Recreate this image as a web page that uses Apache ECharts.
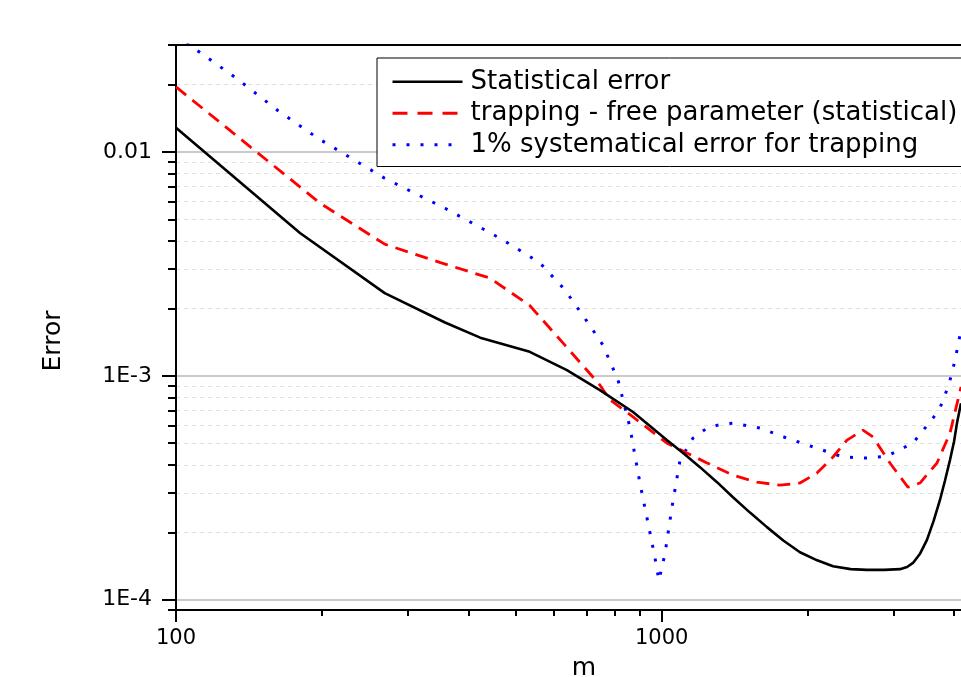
<!DOCTYPE html>
<html><head><meta charset="utf-8">
<script src="https://cdn.jsdelivr.net/npm/echarts@6/dist/echarts.min.js"></script>
<style>html,body{margin:0;padding:0;background:#fff}#c{width:961px;height:677px}</style>
</head><body><div id="c"></div>
<script>
// ---- data ----
const seriesNames = ['Statistical error', 'trapping - free parameter (statistical)', '1% systematical error for trapping'];

const mStat = [100, 180, 269, 358, 423, 535, 638, 746, 873, 1026, 1110, 1199, 1300, 1402, 1520, 1647, 1780, 1926, 2090, 2253, 2450, 2646, 2870, 3095, 3200, 3292, 3400, 3517, 3630, 3741, 3830, 3923, 4000, 4055, 4133];
const vStat = [0.0128, 0.00434, 0.00234, 0.00173, 0.00148, 0.00128, 0.00106, 0.000863, 0.000689, 0.000516, 0.000450, 0.000391, 0.000335, 0.000287, 0.000245, 0.000211, 0.000184, 0.000163, 0.000150, 0.000141, 0.000137, 0.000136, 0.000136, 0.000137, 0.000140, 0.000146, 0.000160, 0.000185, 0.000225, 0.000279, 0.000340, 0.000421, 0.000510, 0.000615, 0.000755];

const mFree = [100, 198, 269, 349, 443, 535, 632, 746, 783, 873, 1026, 1127, 1240, 1402, 1571, 1752, 1926, 2088, 2253, 2407, 2597, 2723, 2951, 3214, 3402, 3688, 3923, 4133];
const vFree = [0.0195, 0.0059, 0.00387, 0.00321, 0.00273, 0.00206, 0.00137, 0.00091, 0.00078, 0.000655, 0.000500, 0.000452, 0.000408, 0.000360, 0.000335, 0.000325, 0.000332, 0.000368, 0.000434, 0.000516, 0.000572, 0.000533, 0.000408, 0.000318, 0.000332, 0.000408, 0.000555, 0.000891];

const mSys = [100, 109, 134, 162, 196, 269, 358, 465, 560, 632, 711, 757, 813, 860, 902, 946, 968, 987, 1016, 1050, 1091, 1160, 1240, 1320, 1402, 1594, 1811, 2088, 2362, 2646, 2910, 3292, 3620, 3741, 3904, 4018, 4133];
const vSys = [0.034, 0.029, 0.0211, 0.0153, 0.0115, 0.00762, 0.0056, 0.00411, 0.00321, 0.00242, 0.00168, 0.00137, 0.000957, 0.00059, 0.000332, 0.000199, 0.000155, 0.000122, 0.000161, 0.000259, 0.000421, 0.000527, 0.000584, 0.000607, 0.000615, 0.000584, 0.000527, 0.000475, 0.000434, 0.000429, 0.000438, 0.000501, 0.000648, 0.000718, 0.000916, 0.001175, 0.00160];

const xRange = [100, 4133];
const yRange = [9e-5, 0.03];
const xMajor = [100, 1000];
const xMajorLabels = ['100', '1000'];
const xMinor = [200, 300, 400, 500, 600, 700, 800, 900, 2000, 3000, 4000];
const yMajor = [1e-4, 1e-3, 1e-2];
const yMajorLabels = ['1E-4', '1E-3', '0.01'];
const yMinor = [9e-5, 2e-4, 3e-4, 4e-4, 5e-4, 6e-4, 7e-4, 8e-4, 9e-4, 2e-3, 3e-3, 4e-3, 5e-3, 6e-3, 7e-3, 8e-3, 9e-3, 2e-2, 3e-2];
const xTitle = 'm';
const yTitle = 'Error';

// ---- chart ----
const FONT = 'DejaVu Sans';
function pairs(xs, ys) { return xs.map((x, i) => [x, ys[i]]); }
function lookup(vals, labels) {
  return function (v) {
    for (let i = 0; i < vals.length; i++) {
      if (Math.abs(Math.log10(v) - Math.log10(vals[i])) < 1e-6) return labels[i];
    }
    return '';
  };
}

const chart = echarts.init(document.getElementById('c'), null, { renderer: 'canvas' });
const option = {
  animation: false,
  backgroundColor: '#fff',
  grid: { left: 176, right: 0, top: 45, bottom: 67, containLabel: false },
  xAxis: [
    {
      type: 'log', logBase: 10, min: xRange[0], max: xRange[1], position: 'bottom',
      axisLine: { show: true, onZero: false, lineStyle: { color: '#000', width: 2 } },
      axisTick: { show: true, customValues: xMajor, length: 12, lineStyle: { color: '#000', width: 2 } },
      axisLabel: { show: true, customValues: xMajor, formatter: lookup(xMajor, xMajorLabels), margin: 18,
        fontFamily: FONT, fontSize: 21, color: '#000' },
      splitLine: { show: false }
    },
    {
      type: 'log', logBase: 10, min: xRange[0], max: xRange[1], position: 'bottom',
      axisLine: { show: false, onZero: false },
      axisTick: { show: true, customValues: xMinor, length: 6, lineStyle: { color: '#000', width: 2 } },
      axisLabel: { show: false },
      splitLine: { show: false }
    },
    {
      type: 'log', logBase: 10, min: xRange[0], max: xRange[1], position: 'top',
      axisLine: { show: true, onZero: false, lineStyle: { color: '#000', width: 2 } },
      axisTick: { show: false }, axisLabel: { show: false }, splitLine: { show: false }
    }
  ],
  yAxis: [
    {
      type: 'log', logBase: 10, min: yRange[0], max: yRange[1], position: 'left',
      axisLine: { show: true, onZero: false, lineStyle: { color: '#000', width: 2 } },
      axisTick: { show: true, customValues: yMajor, length: 14, lineStyle: { color: '#000', width: 2 } },
      axisLabel: { show: true, customValues: yMajor, formatter: lookup(yMajor, yMajorLabels), margin: 24,
        fontFamily: FONT, fontSize: 22, color: '#000' },
      splitLine: { show: true, lineStyle: { color: '#b8b8b8', width: 1.5 } }
    },
    {
      type: 'log', logBase: 10, min: yRange[0], max: yRange[1], position: 'left',
      axisLine: { show: false, onZero: false },
      axisTick: { show: true, customValues: yMinor, length: 8, lineStyle: { color: '#000', width: 2 } },
      axisLabel: { show: false },
      splitLine: { show: true, lineStyle: { color: '#e0e0e0', width: 1, type: [4, 4] } }
    }
  ],
  legend: {
    orient: 'vertical', left: 377, top: 58,
    padding: [8, 20, 6, 14], itemGap: 0, itemWidth: 70, itemHeight: 14,
    borderColor: '#000', borderWidth: 1, backgroundColor: '#fff',
    itemStyle: { opacity: 0 },
    textStyle: { fontFamily: FONT, fontSize: 26, color: '#000', lineHeight: 31.5, padding: [0, 0, 0, 3] },
    data: [
      { name: seriesNames[0], lineStyle: { width: 2.6 } },
      { name: seriesNames[1], lineStyle: { type: [15, 10], width: 2.8 } },
      { name: seriesNames[2], lineStyle: { type: [3, 11], width: 3 } }
    ]
  },
  graphic: [
    { type: 'text', x: 53, y: 341, rotation: Math.PI / 2,
      style: { text: yTitle, font: '25px "DejaVu Sans"', fill: '#000', align: 'center', verticalAlign: 'middle' } },
    { type: 'text', x: 584, y: 668,
      style: { text: xTitle, font: '25px "DejaVu Sans"', fill: '#000', align: 'center', verticalAlign: 'middle' } }
  ],
  series: [
    { name: seriesNames[2], type: 'line', xAxisIndex: 0, yAxisIndex: 0, data: pairs(mSys, vSys),
      symbol: 'none', smooth: false,
      lineStyle: { color: '#0000ff', width: 3, type: [3, 11] }, itemStyle: { color: '#0000ff' } },
    { name: seriesNames[1], type: 'line', xAxisIndex: 0, yAxisIndex: 0, data: pairs(mFree, vFree),
      symbol: 'none', smooth: false,
      lineStyle: { color: '#ff0000', width: 2.8, type: [13, 8] }, itemStyle: { color: '#ff0000' } },
    { name: seriesNames[0], type: 'line', xAxisIndex: 0, yAxisIndex: 0, data: pairs(mStat, vStat),
      symbol: 'none', smooth: false,
      lineStyle: { color: '#000', width: 2.6 }, itemStyle: { color: '#000' } }
  ]
};
chart.setOption(option);
</script>
</body></html>
